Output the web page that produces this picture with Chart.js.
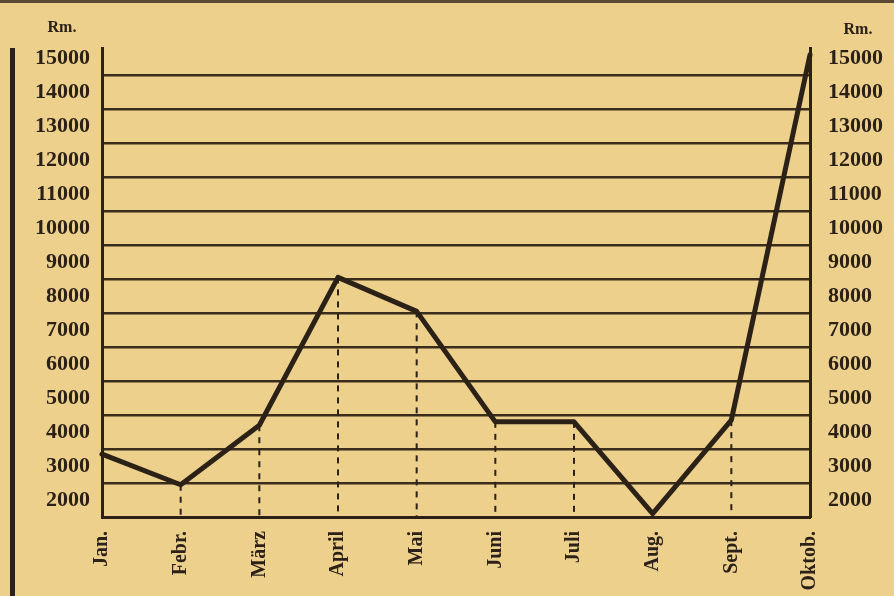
<!DOCTYPE html>
<html>
<head>
<meta charset="utf-8">
<script src="https://cdn.jsdelivr.net/npm/chart.js@4"></script>
<style>
  html, body { margin: 0; padding: 0; background: #edd08c; }
  #wrap { width: 894px; height: 596px; }
</style>
</head>
<body>
<div id="wrap"><canvas id="chart" width="894" height="596"></canvas></div>
<script>
// data (Rm.)
const months = ['Jan.', 'Febr.', 'März', 'April', 'Mai', 'Juni', 'Juli', 'Aug.', 'Sept.', 'Oktob.'];
const amounts = [3350, 2450, 4200, 8550, 7550, 4300, 4300, 1600, 4350, 15100];
const tickLabels = [2000, 3000, 4000, 5000, 6000, 7000, 8000, 9000, 10000, 11000, 12000, 13000, 14000, 15000];
const gridLevels = [2500, 3500, 4500, 5500, 6500, 7500, 8500, 9500, 10500, 11500, 12500, 13500, 14500];
const unit = 'Rm.';

const ink = '#2b2116';
const paper = '#edd08c';
const font = "'Liberation Serif', 'DejaVu Serif', serif";

// paper, frame lines, dashed drop lines and the unit labels
const decor = {
    id: 'decor',
    beforeDraw(chart) {
        const c = chart.ctx;
        c.save();
        c.fillStyle = paper;
        c.fillRect(0, 0, chart.width, chart.height);
        c.fillStyle = '#5b4a33';
        c.fillRect(0, 0, chart.width, 3);
        c.fillStyle = ink;
        c.fillRect(10, chart.chartArea.top, 5, chart.height - chart.chartArea.top);
        c.restore();
    },
    beforeDatasetsDraw(chart) {
        const c = chart.ctx;
        const bottom = chart.scales.x.bottom - chart.scales.x.height;
        const pts = chart.getDatasetMeta(0).data;
        c.save();
        c.strokeStyle = ink;
        c.lineWidth = 2;
        c.setLineDash([6, 6]);
        pts.forEach(function(p, i) {
            if (i === 0 || i === pts.length - 1) return;
            c.beginPath();
            c.moveTo(p.x, p.y);
            c.lineTo(p.x, chart.chartArea.bottom);
            c.stroke();
        });
        c.restore();
    },
    afterDraw(chart) {
        const c = chart.ctx;
        c.save();
        c.fillStyle = ink;
        c.font = 'bold 16px ' + font;
        c.textAlign = 'center';
        c.textBaseline = 'middle';
        c.fillText(unit, 62, 28);
        c.fillText(unit, 858, 30);
        c.restore();
    }
};

const ctx = document.getElementById('chart').getContext('2d');
const myChart = new Chart(ctx, {
    type: 'line',
    data: {
        labels: months,
        datasets: [{
            data: amounts,
            borderColor: ink,
            borderWidth: 5,
            borderJoinStyle: 'round',
            borderCapStyle: 'round',
            pointRadius: 0,
            tension: 0,
            clip: false
        }]
    },
    options: {
        responsive: false,
        animation: false,
        layout: { padding: { top: 48, left: 0, right: 0, bottom: 0 } },
        plugins: {
            legend: { display: false },
            tooltip: { enabled: false }
        },
        scales: {
            x: {
                offset: false,
                grid: { display: false },
                border: { display: true, color: ink, width: 3 },
                ticks: {
                    color: ink,
                    font: { family: font, size: 20, weight: 'bold' },
                    minRotation: 90,
                    maxRotation: 90,
                    autoSkip: false,
                    padding: 6
                },
                afterFit(scale) { scale.height = 79; }
            },
            y: {
                position: 'left',
                min: 1500,
                max: 15300,
                afterBuildTicks(scale) {
                    scale.ticks = tickLabels.concat(gridLevels)
                        .sort(function(a, b) { return a - b; })
                        .map(function(v) { return { value: v }; });
                },
                grid: {
                    drawTicks: false,
                    lineWidth: 2.5,
                    color: function(c) {
                        return c.tick && gridLevels.includes(c.tick.value) ? '#3a2d1c' : 'rgba(0,0,0,0)';
                    }
                },
                border: { display: true, color: ink, width: 3 },
                ticks: {
                    color: ink,
                    autoSkip: false,
                    padding: 12,
                    font: { family: font, size: 22, weight: 'bold' },
                    callback: function(v) { return tickLabels.includes(v) ? String(v) : ''; }
                },
                afterFit(scale) { scale.width = 102; }
            },
            y2: {
                position: 'right',
                min: 1500,
                max: 15300,
                afterBuildTicks(scale) {
                    scale.ticks = tickLabels.map(function(v) { return { value: v }; });
                },
                grid: { display: false, drawTicks: false },
                border: { display: true, color: ink, width: 3 },
                ticks: {
                    color: ink,
                    autoSkip: false,
                    padding: 18,
                    font: { family: font, size: 22, weight: 'bold' },
                    callback: function(v) { return String(v); }
                },
                afterFit(scale) { scale.width = 84; }
            }
        }
    },
    plugins: [decor]
});
</script>
</body>
</html>
